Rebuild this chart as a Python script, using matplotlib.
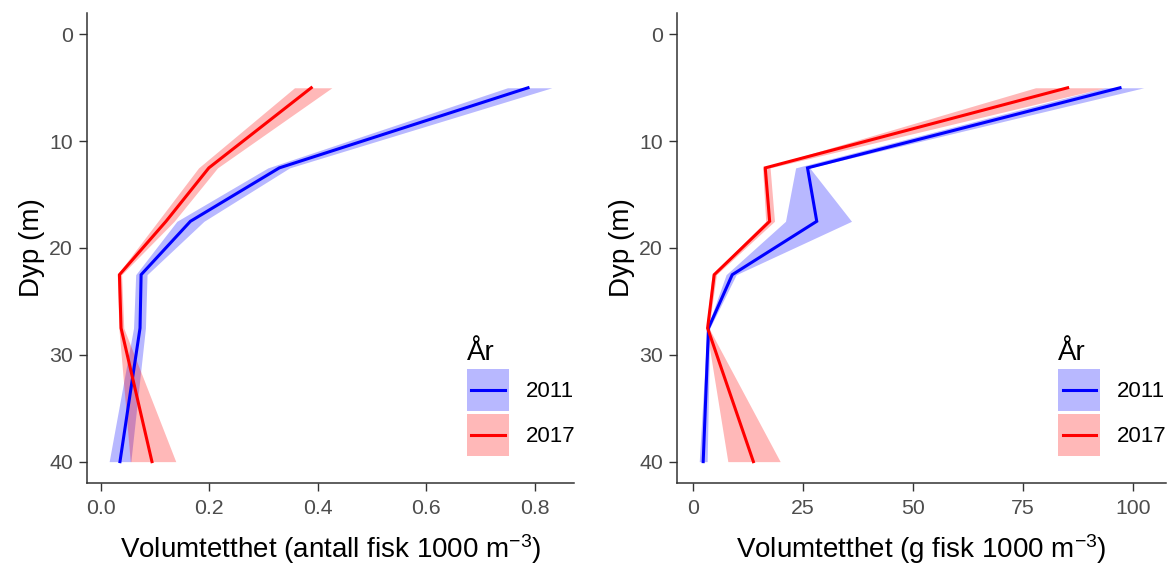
import matplotlib
matplotlib.use("Agg")
from matplotlib import pyplot as plt
from matplotlib.patches import Rectangle
from matplotlib.lines import Line2D

plt.rcParams['font.family'] = ['Liberation Sans', 'DejaVu Sans']
plt.rcParams['mathtext.default'] = 'regular'

dyp = [5, 12.5, 17.5, 22.5, 27.5, 40]
aar = ["2011", "2017"]
farger = {"2011": "#0000FF", "2017": "#FF0000"}

# antall fisk per 1000 m3
antall_2011 = [0.788, 0.329, 0.165, 0.074, 0.072, 0.035]
antall_2011_lav = [0.750, 0.308, 0.140, 0.064, 0.060, 0.015]
antall_2011_hoy = [0.832, 0.348, 0.190, 0.085, 0.082, 0.055]
antall_2017 = [0.388, 0.199, 0.120, 0.034, 0.037, 0.094]
antall_2017_lav = [0.357, 0.180, 0.105, 0.030, 0.033, 0.054]
antall_2017_hoy = [0.426, 0.215, 0.135, 0.038, 0.042, 0.138]

# gram fisk per 1000 m3
gram_2011 = [97.0, 26.0, 28.1, 8.9, 3.5, 2.3]
gram_2011_lav = [93.5, 23.3, 21.0, 7.5, 3.2, 1.4]
gram_2011_hoy = [102.4, 26.5, 36.0, 9.8, 3.8, 3.2]
gram_2017 = [85.1, 16.4, 17.4, 4.8, 3.3, 13.7]
gram_2017_lav = [77.8, 15.8, 16.5, 4.3, 3.0, 7.9]
gram_2017_hoy = [93.5, 17.5, 18.5, 5.3, 3.6, 19.8]

x_ticks_antall = [0.0, 0.2, 0.4, 0.6, 0.8]
x_labels_antall = ["0.0", "0.2", "0.4", "0.6", "0.8"]
x_ticks_gram = [0, 25, 50, 75, 100]
x_labels_gram = ["0", "25", "50", "75", "100"]
y_ticks = [0, 10, 20, 30, 40]

TITTEL = 20
TEKST = 15.3
LEGENDE = 16


class Nokkel:
    """Legend key: ribbon square with the line across the middle."""

    def __init__(self, farge):
        self.farge = farge


class NokkelHandler:
    def legend_artist(self, legend, orig_handle, fontsize, handlebox):
        x0, y0 = handlebox.xdescent, handlebox.ydescent
        w, h = handlebox.width, handlebox.height
        tr = handlebox.get_transform()
        rect = Rectangle((-x0, -y0), w, h, facecolor=orig_handle.farge,
                         alpha=0.28, lw=0, transform=tr)
        linje = Line2D([-x0 + 0.1 * w, -x0 + 0.9 * w], [-y0 + h / 2] * 2,
                       color=orig_handle.farge, lw=2.2, transform=tr)
        handlebox.add_artist(rect)
        handlebox.add_artist(linje)
        return rect


def utvid(verdier, andel=0.05):
    lo, hi = min(verdier), max(verdier)
    d = (hi - lo) * andel
    return lo - d, hi + d


def tegn_panel(ax, serier, xticks, xlabels, xtittel):
    # baand forst, saa linjer oppaa
    for a in aar:
        mid, lav, hoy = serier[a]
        ax.fill_betweenx(dyp, lav, hoy, color=farger[a], alpha=0.28, lw=0)
    for a in aar:
        mid, lav, hoy = serier[a]
        ax.plot(mid, dyp, color=farger[a], lw=2.2, solid_joinstyle='miter')

    alle = []
    for a in aar:
        alle += serier[a][1] + serier[a][2]
    ax.set_xlim(*utvid(alle))
    ax.set_ylim(42, -2)
    ax.set_xticks(xticks)
    ax.set_xticklabels(xlabels)
    ax.set_yticks(y_ticks)

    for s in ['top', 'right']:
        ax.spines[s].set_visible(False)
    for s in ['left', 'bottom']:
        ax.spines[s].set_linewidth(1.1)
        ax.spines[s].set_color('#333333')
    ax.tick_params(length=5.5, width=1.0, color='#333333', labelcolor='#4D4D4D',
                   labelsize=TEKST, pad=4.5)
    ax.tick_params(axis='x', pad=6)
    ax.set_xlabel(xtittel, fontsize=TITTEL, labelpad=10)
    ax.set_ylabel("Dyp (m)", fontsize=TITTEL, labelpad=3)

    handles = [Nokkel(farger[a]) for a in aar]
    leg = ax.legend(handles, aar, title="År", loc='lower left',
                    handler_map={Nokkel: NokkelHandler()},
                    bbox_to_anchor=(0.78, 0.058), borderaxespad=0, borderpad=0,
                    frameon=False, fontsize=LEGENDE, title_fontsize=TITTEL,
                    handlelength=1.89, handleheight=2.53, handletextpad=0.75,
                    labelspacing=0.12, alignment='left')
    leg.get_title().set_color('black')


fig = plt.figure(figsize=(11.71, 5.69), dpi=100)
ax1 = fig.add_axes([87 / 1171, 1 - 483 / 569, 487 / 1171, 470 / 569])
ax2 = fig.add_axes([677 / 1171, 1 - 483 / 569, 489 / 1171, 470 / 569])

tegn_panel(ax1,
           {"2011": (antall_2011, antall_2011_lav, antall_2011_hoy),
            "2017": (antall_2017, antall_2017_lav, antall_2017_hoy)},
           x_ticks_antall, x_labels_antall,
           "Volumtetthet (antall fisk 1000 m$^{-3}$)")
tegn_panel(ax2,
           {"2011": (gram_2011, gram_2011_lav, gram_2011_hoy),
            "2017": (gram_2017, gram_2017_lav, gram_2017_hoy)},
           x_ticks_gram, x_labels_gram,
           "Volumtetthet (g fisk 1000 m$^{-3}$)")

fig.savefig("out.png", dpi=100)
